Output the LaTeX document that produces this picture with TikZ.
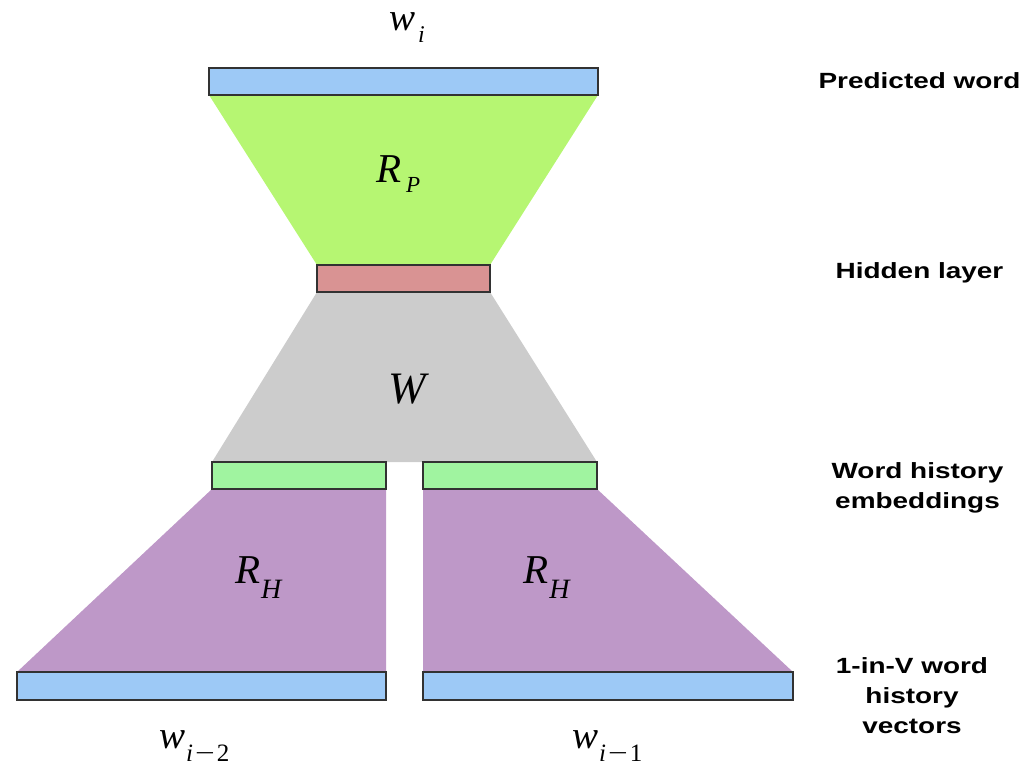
\documentclass[tikz,border=0pt]{standalone}
\usepackage{fontspec}
\setmainfont{Liberation Serif}
\newfontfamily\labfont{Liberation Sans}
\usetikzlibrary{backgrounds}
\definecolor{cblue}{RGB}{157,201,246}
\definecolor{cgreen}{RGB}{182,246,114}
\definecolor{cpink}{RGB}{217,147,147}
\definecolor{cgray}{RGB}{204,204,204}
\definecolor{clgreen}{RGB}{160,244,160}
\definecolor{cpurple}{RGB}{190,152,200}
\definecolor{cedge}{RGB}{50,50,50}
% #1 size, #2 base, #3 subscript, #4 sub size, #5 drop, #6 kern
\newcommand{\mvar}[6]{{\fontsize{#1}{#1}\selectfont\itshape #2}\kern#6pt\raisebox{-#5pt}{\fontsize{#4}{#4}\selectfont #3}}
\newcommand{\minussp}{\kern2pt\upshape\scalebox{1.4}[1]{−}\kern2pt}
\newcommand{\lbltext}[1]{\scalebox{1.27}[1]{\fontsize{22}{30}\selectfont\labfont\bfseries\begin{tabular}[t]{@{}c@{}}#1\end{tabular}}}
\tikzset{
  layerbox/.style={draw=cedge, line width=1.3pt, rectangle, inner sep=0pt, outer sep=0pt},
  mathlbl/.style={anchor=base west, inner sep=0pt},
  sidelbl/.style={anchor=base, inner sep=0pt}
}
\begin{document}
\begin{tikzpicture}[x=1pt,y=-1pt]
\useasboundingbox (0,0) rectangle (1022,766);
% layers
\node[layerbox, fill=cblue, minimum width=389pt, minimum height=27pt] (pred) at (403.5,81.5) {};
\node[layerbox, fill=cpink, minimum width=173pt, minimum height=27pt] (hid) at (403.5,278.5) {};
\node[layerbox, fill=clgreen, minimum width=174pt, minimum height=27pt] (embL) at (299,475.5) {};
\node[layerbox, fill=clgreen, minimum width=174pt, minimum height=27pt] (embR) at (510,475.5) {};
\node[layerbox, fill=cblue, minimum width=369pt, minimum height=28pt] (histL) at (201.5,686) {};
\node[layerbox, fill=cblue, minimum width=370pt, minimum height=28pt] (histR) at (608,686) {};
% projections
\begin{scope}[on background layer]
\fill[cgreen] (pred.south west) -- (pred.south east) -- (hid.north east) -- (hid.north west) -- cycle;
\fill[cgray] (hid.south west) -- (hid.south east) -- (embR.north east) -- (embL.north west) -- cycle;
\fill[cpurple] (embL.south west) -- (embL.south east) -- (histL.north east) -- (histL.north west) -- cycle;
\fill[cpurple] (embR.south west) -- (embR.south east) -- (histR.north east) -- (histR.north west) -- cycle;
\end{scope}
% math labels
\node[mathlbl] (lwi) at (389,30) {\mvar{39}{w}{\itshape i}{24}{12}{3}};
\node[mathlbl] (lrp) at (376,182) {\mvar{41}{R}{\itshape P}{23}{10}{5}};
\node[mathlbl] (lw) at (388,403) {\mvar{45}{W}{}{20}{0}{0}};
\node[mathlbl] (lrh1) at (235,583) {\mvar{41}{R}{\itshape H}{28}{15}{1}};
\node[mathlbl] (lrh2) at (523,583) {\mvar{41}{R}{\itshape H}{28}{15}{1}};
\node[mathlbl] (lwi2) at (159,748) {\mvar{39}{w}{\itshape i\minussp 2}{25}{13}{1}};
\node[mathlbl] (lwi1) at (572,748) {\mvar{39}{w}{\itshape i\minussp 1}{25}{13}{1}};
% side labels
\node[sidelbl] (tpred) at (919.5,88) {\lbltext{Predicted word}};
\node[sidelbl] (thid) at (919.5,278) {\lbltext{Hidden layer}};
\node[sidelbl] (temb) at (917.5,478) {\lbltext{Word history\\embeddings}};
\node[sidelbl] (tvec) at (912,673) {\lbltext{1-in-V word\\history\\vectors}};
\end{tikzpicture}
\end{document}
